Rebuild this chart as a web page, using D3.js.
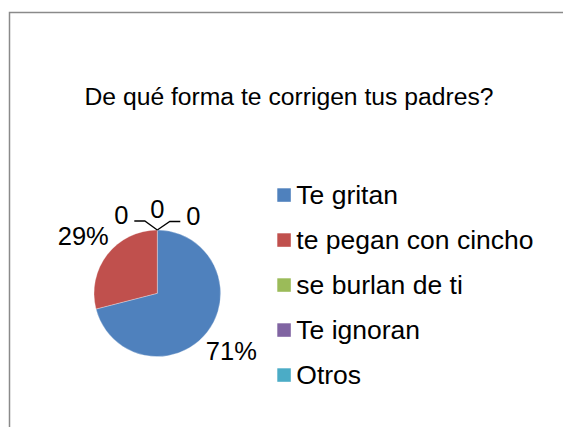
<!DOCTYPE html>
<html>
<head>
<meta charset="utf-8">
<script src="https://cdn.jsdelivr.net/npm/d3@7"></script>
<style>
  html, body { margin: 0; padding: 0; background: #fff; overflow: hidden; }
  svg { display: block; }
  text { font-family: "Liberation Sans", Arial, sans-serif; fill: #000; }
</style>
</head>
<body>
<svg id="chart" width="563" height="427"></svg>
<script>
// Survey answers and their share of responses (percent)
const categories = ["Te gritan", "te pegan con cincho", "se burlan de ti", "Te ignoran", "Otros"];
const values = [71, 29, 0, 0, 0];
const colors = ["#4F81BD", "#C0504D", "#9BBB59", "#8064A2", "#4BACC6"];
const title = "De qué forma te corrigen tus padres?";

const W = 563, H = 427;
const svg = d3.select("#chart");

// Chart frame: left and top edges (the rest runs off the page)
svg.append("path")
  .attr("d", `M9.5,${H}L9.5,12.5L${W},12.5`)
  .attr("fill", "none")
  .attr("stroke", "#8a8a8a")
  .attr("stroke-width", 1.5);

// Title
svg.append("text")
  .attr("x", 289).attr("y", 104.5)
  .attr("text-anchor", "middle")
  .style("font-size", "24.7px")
  .text(title);

// Pie
const cx = 157.3, cy = 293.3, r = 63.3;
const data = categories.map((c, i) => ({ name: c, value: values[i], color: colors[i] }));
const pie = d3.pie().sort(null).value(d => d.value);
const arcs = pie(data);
const arc = d3.arc().innerRadius(0).outerRadius(r);

const g = svg.append("g").attr("transform", `translate(${cx},${cy})`);
g.selectAll("path.slice")
  .data(arcs.filter(a => a.data.value > 0))
  .join("path")
  .attr("class", "slice")
  .attr("d", arc)
  .attr("fill", d => d.data.color)
  .attr("stroke", "#ffffff")
  .attr("stroke-opacity", 0.5)
  .attr("stroke-width", 0.6);

// Data labels: non-zero slices get a percentage placed outside the slice
const fs = 25.5;
const labelArc = d3.arc().innerRadius(r * 1.48).outerRadius(r * 1.48);
const fmt = d3.format(".0%");
const total = d3.sum(values);

arcs.filter(a => a.data.value > 0).forEach(a => {
  const [lx, ly] = labelArc.centroid(a);
  g.append("text")
    .attr("x", lx).attr("y", ly)
    .attr("dy", "0.36em")
    .attr("text-anchor", "middle")
    .style("font-size", fs + "px")
    .text(fmt(a.data.value / total));
});

// Zero-valued slices all sit at the top of the pie; spread their labels out
const zeros = arcs.filter(a => a.data.value === 0);
const topR = r * 1.34;
const spread = [-36, 0, 36];
const drop = [6.5, 0, 7];
zeros.forEach((a, i) => {
  const ang = a.startAngle;
  const ex = Math.sin(ang) * r, ey = -Math.cos(ang) * r;
  const lx = Math.sin(ang) * topR + spread[i];
  const ly = -Math.cos(ang) * topR + drop[i];
  g.append("text")
    .attr("x", lx).attr("y", ly)
    .attr("dy", "0.36em")
    .attr("text-anchor", "middle")
    .style("font-size", fs + "px")
    .text(a.data.value);
  if (spread[i] !== 0) {
    const side = Math.sign(spread[i]);
    const hx = lx - side * 13;       // end of horizontal segment near the label
    const kx = ex + side * 12.5;      // elbow
    const yy = ly + 6;
    g.append("path")
      .attr("d", `M${hx},${yy}L${kx},${yy}L${ex},${ey}`)
      .attr("fill", "none")
      .attr("stroke", "#000")
      .attr("stroke-width", 1.3);
  }
});

// Legend
const legend = svg.append("g").attr("transform", "translate(277.3,188.3)");
const rows = legend.selectAll("g.row")
  .data(data)
  .join("g")
  .attr("class", "row")
  .attr("transform", (d, i) => `translate(0,${i * 45})`);
rows.append("rect")
  .attr("width", 13.5).attr("height", 13.5)
  .attr("fill", d => d.color);
rows.append("text")
  .attr("x", 19).attr("y", 16)
  .style("font-size", "26.5px")
  .text(d => d.name);
</script>
</body>
</html>
